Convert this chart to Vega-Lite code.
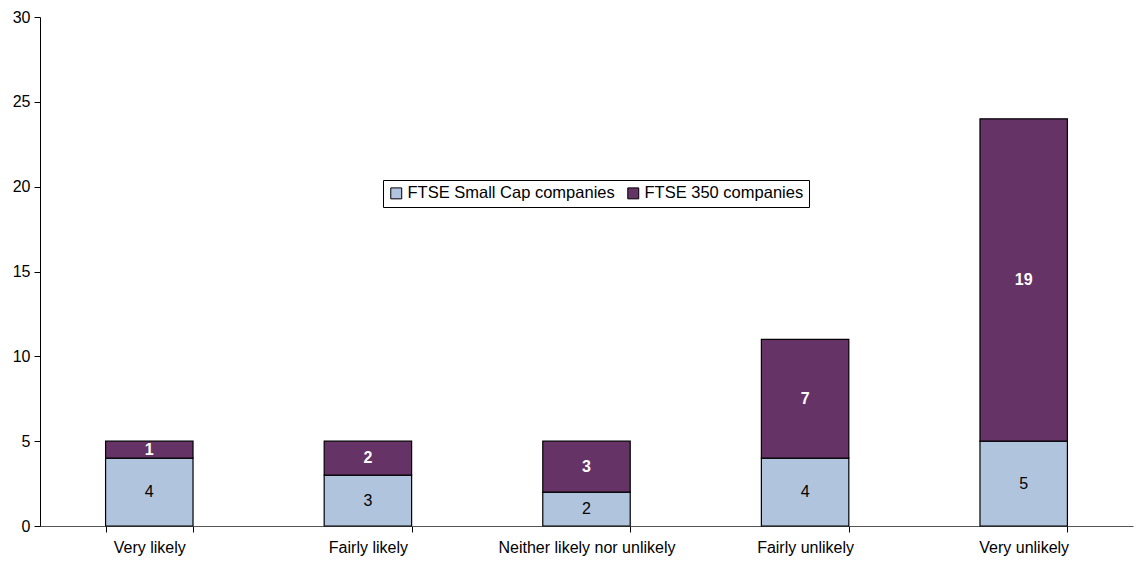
{
  "$schema": "https://vega.github.io/schema/vega-lite/v6.json",
  "autosize": {"type": "none"},
  "padding": {"left": 40, "top": 17, "right": 4, "bottom": 37},
  "width": 1093,
  "height": 509,
  "background": "white",
  "config": {
    "font": "Liberation Sans",
    "view": {"stroke": null},
    "axis": {"grid": false, "domainColor": "#000000", "tickColor": "#000000", "labelColor": "#000000", "labelFont": "Liberation Sans", "labelFontSize": 16, "title": null}
  },
  "data": {
    "values": [
      {"category": "Very likely", "series": "FTSE Small Cap companies", "value": 4},
      {"category": "Very likely", "series": "FTSE 350 companies", "value": 1},
      {"category": "Fairly likely", "series": "FTSE Small Cap companies", "value": 3},
      {"category": "Fairly likely", "series": "FTSE 350 companies", "value": 2},
      {"category": "Neither likely nor unlikely", "series": "FTSE Small Cap companies", "value": 2},
      {"category": "Neither likely nor unlikely", "series": "FTSE 350 companies", "value": 3},
      {"category": "Fairly unlikely", "series": "FTSE Small Cap companies", "value": 4},
      {"category": "Fairly unlikely", "series": "FTSE 350 companies", "value": 7},
      {"category": "Very unlikely", "series": "FTSE Small Cap companies", "value": 5},
      {"category": "Very unlikely", "series": "FTSE 350 companies", "value": 19}
    ]
  },
  "encoding": {
    "x": {
      "field": "category", "type": "nominal",
      "sort": ["Very likely", "Fairly likely", "Neither likely nor unlikely", "Fairly unlikely", "Very unlikely"],
      "scale": {"paddingInner": 0.6, "paddingOuter": 0.3},
      "axis": {"labelAngle": 0, "tickBand": "extent", "tickSize": 6, "labelPadding": 7, "domainColor": "#555555"}
    },
    "y": {
      "field": "value", "type": "quantitative", "stack": "zero",
      "scale": {"domain": [0, 30], "nice": false},
      "axis": {"values": [0, 5, 10, 15, 20, 25, 30], "tickSize": 6, "labelPadding": 4}
    },
    "order": {"field": "series", "sort": "descending"}
  },
  "layer": [
    {
      "mark": {"type": "bar", "stroke": "#000000", "strokeWidth": 1.2},
      "encoding": {
        "color": {
          "field": "series", "type": "nominal",
          "scale": {"domain": ["FTSE Small Cap companies", "FTSE 350 companies"], "range": ["#B0C4DE", "#663366"]},
          "legend": {
            "title": null, "orient": "none", "direction": "horizontal",
            "legendX": 343, "legendY": 163,
            "strokeColor": "#000000", "fillColor": "#ffffff", "padding": 5,
            "symbolType": "square", "symbolSize": 120, "symbolStrokeColor": "#000000", "symbolStrokeWidth": 1, "symbolOpacity": 1,
            "labelFontSize": 16.5, "labelLimit": 0, "labelColor": "#000000", "labelFont": "Liberation Sans", "columnPadding": 10, "symbolOffset": 0, "labelOffset": 3
          }
        }
      }
    },
    {
      "mark": {"type": "text", "fontSize": 16, "color": "#000000", "baseline": "middle"},
      "encoding": {
        "y": {"field": "value", "type": "quantitative", "stack": "zero", "bandPosition": 0.5},
        "text": {"condition": {"test": "datum.series === 'FTSE Small Cap companies'", "field": "value", "type": "quantitative"}, "value": ""}
      }
    },
    {
      "mark": {"type": "text", "fontSize": 16, "fontWeight": "bold", "color": "#ffffff", "baseline": "middle"},
      "encoding": {
        "y": {"field": "value", "type": "quantitative", "stack": "zero", "bandPosition": 0.5},
        "text": {"condition": {"test": "datum.series === 'FTSE 350 companies'", "field": "value", "type": "quantitative"}, "value": ""}
      }
    }
  ]
}
